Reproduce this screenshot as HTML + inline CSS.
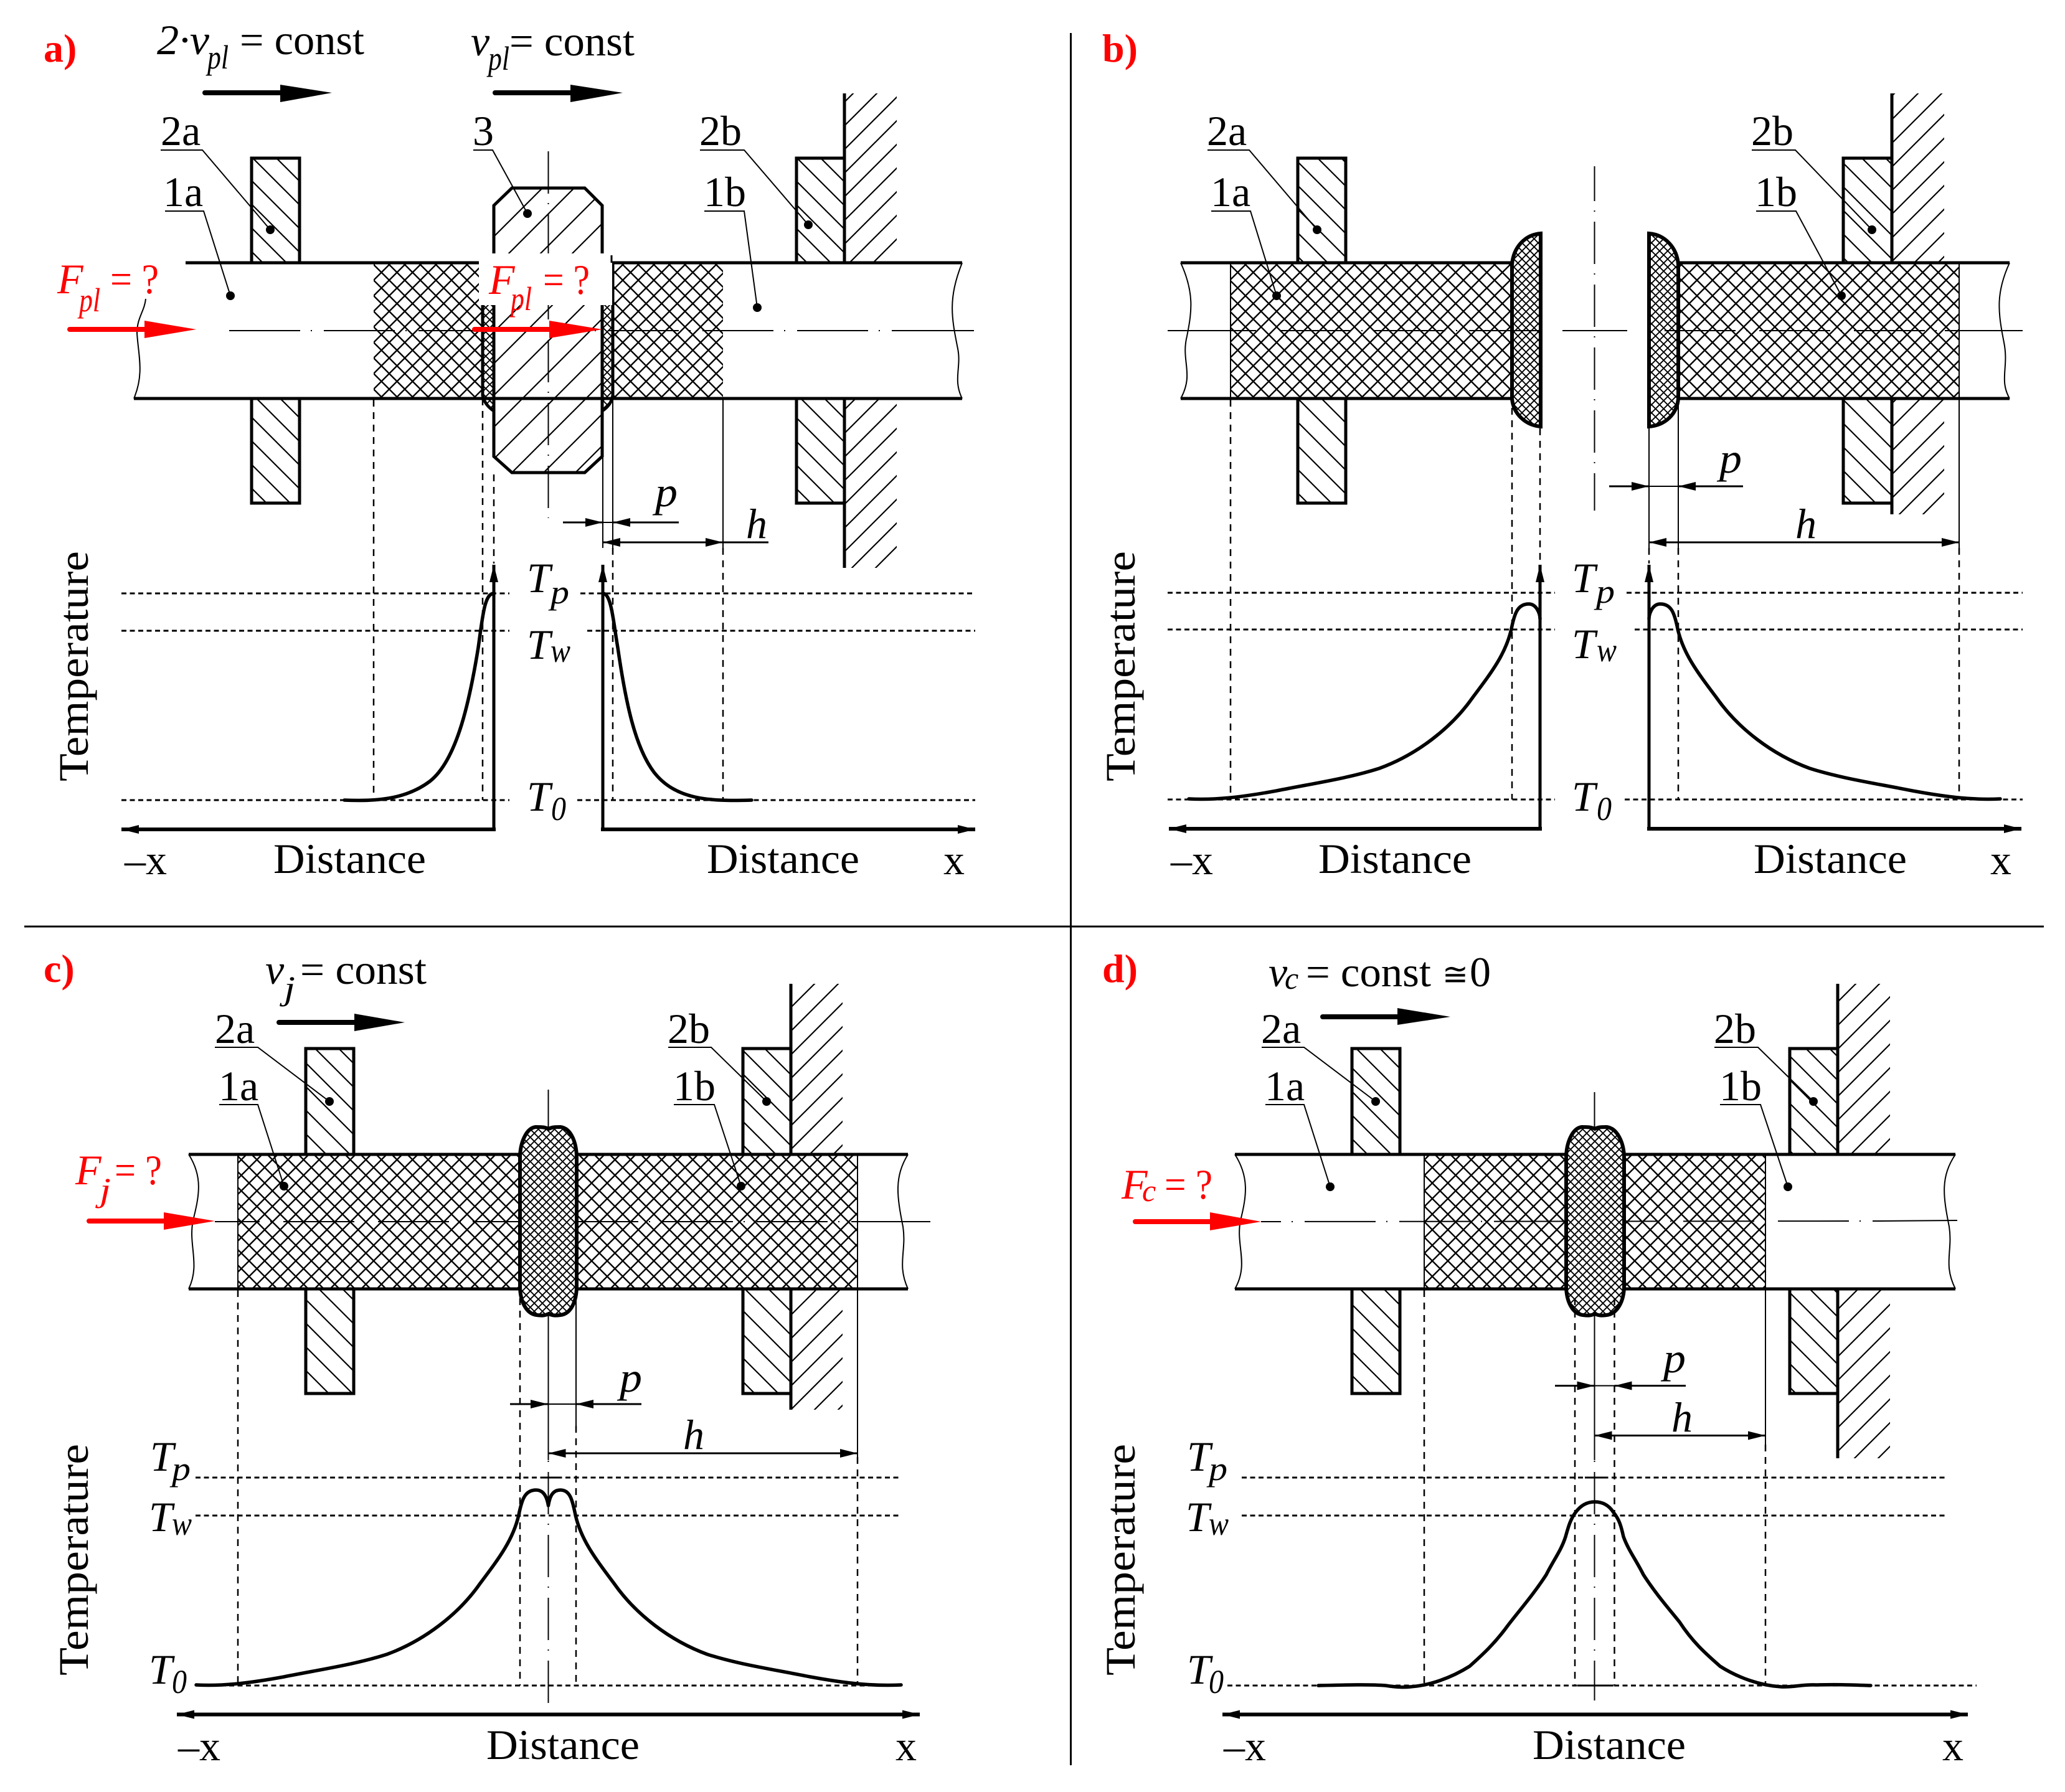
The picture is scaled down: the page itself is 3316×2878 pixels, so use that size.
<!DOCTYPE html>
<html>
<head>
<meta charset="utf-8">
<style>
html,body{margin:0;padding:0;background:#fff}
svg{display:block}
text{font-family:"Liberation Serif","DejaVu Serif",serif;font-size:68px;fill:#000}
.i{font-style:italic}
.s{font-style:italic;font-size:54px}
.r{fill:#f00}
.h{font-weight:bold;fill:#f00;font-size:64px}
.m{fill:none;stroke:#000;stroke-width:5}
.th{fill:none;stroke:#000;stroke-width:2}
.sep{stroke:#000;stroke-width:3}
.dim{stroke:#000;stroke-width:3;marker-end:url(#ah)}
.dim2{stroke:#000;stroke-width:3;marker-end:url(#ah);marker-start:url(#ah)}
.dash{stroke:#000;stroke-width:2.5;stroke-dasharray:11 9;fill:none}
.dot{stroke:#000;stroke-width:3;stroke-dasharray:8 5.5;fill:none}
.cen{stroke:#000;stroke-width:2;stroke-dasharray:114 17 2 19;fill:none}
.cv{stroke:#000;stroke-width:2;stroke-dasharray:68 15 2 16;fill:none}
.ax{stroke:#000;stroke-width:6;marker-end:url(#ah)}
.ay{stroke:#000;stroke-width:5;marker-end:url(#ah)}
.cur{fill:none;stroke:#000;stroke-width:5.5;stroke-linecap:round;stroke-linejoin:round}
.sh{stroke:#000;stroke-width:8;stroke-linecap:round}
.rs{stroke:#f00;stroke-width:8;stroke-linecap:round}
</style>
</head>
<body>
<svg xmlns="http://www.w3.org/2000/svg" width="3316" height="2878" viewBox="0 0 3316 2878">
<defs>
<pattern id="dn" patternUnits="userSpaceOnUse" width="38" height="38"><path d="M0,0L38,38M-5,33L5,43M33,-5L43,5" stroke="#000" stroke-width="2.2" fill="none"/></pattern>
<pattern id="up" patternUnits="userSpaceOnUse" width="38" height="38"><path d="M0,38L38,0M-5,5L5,-5M33,43L43,33" stroke="#000" stroke-width="2.2" fill="none"/></pattern>
<pattern id="bup" patternUnits="userSpaceOnUse" width="51" height="51"><path d="M0,51L51,0M-5,5L5,-5M46,56L56,46" stroke="#000" stroke-width="2.2" fill="none"/></pattern>
<pattern id="x" patternUnits="userSpaceOnUse" width="25" height="25"><path d="M0,25L25,0M-5,5L5,-5M20,30L30,20M0,0L25,25M-5,20L5,30M20,-5L30,5" stroke="#000" stroke-width="2.4" fill="none"/></pattern>
<pattern id="f" patternUnits="userSpaceOnUse" width="13" height="13"><path d="M0,13L13,0M-3,3L3,-3M10,16L16,10M0,0L13,13M-3,10L3,16M10,-3L16,3" stroke="#000" stroke-width="1.9" fill="none"/></pattern>
<marker id="ah" markerUnits="userSpaceOnUse" markerWidth="28" markerHeight="14" refX="28" refY="7" orient="auto-start-reverse"><path d="M0,0L28,7L0,14Z" fill="#000"/></marker>
</defs>
<rect width="3316" height="2878" fill="#fff"/>

<!-- separators -->
<line class="sep" x1="39" y1="1488" x2="3282" y2="1488"/>
<line class="sep" x1="1719.5" y1="53" x2="1719.5" y2="2835"/>

<!-- ============ PANEL A ============ -->
<text class="h" x="70" y="99">a)</text>
<text class="i" x="252" y="87" textLength="84" lengthAdjust="spacingAndGlyphs">2·v</text>
<text class="s" x="333" y="110" textLength="34" lengthAdjust="spacingAndGlyphs">pl</text>
<text x="385" y="87" textLength="200" lengthAdjust="spacingAndGlyphs">= const</text>
<line class="sh" x1="329" y1="149" x2="450" y2="149"/><polygon points="450,136 450,164 533,149"/>
<text class="i" x="756" y="89">v</text>
<text class="s" x="784" y="112" textLength="34" lengthAdjust="spacingAndGlyphs">pl</text>
<text x="818" y="89" textLength="201" lengthAdjust="spacingAndGlyphs">= const</text>
<line class="sh" x1="795" y1="149" x2="916" y2="149"/><polygon points="916,136 916,164 1000,149"/>

<!-- clamps + wall -->
<rect x="404" y="254" width="77" height="168" class="m" style="fill:url(#dn)"/>
<rect x="404" y="640" width="77" height="168" style="fill:url(#dn)" class="m"/>
<rect x="1279" y="254" width="77" height="168" style="fill:url(#dn)" class="m"/>
<rect x="1279" y="640" width="77" height="168" style="fill:url(#dn)" class="m"/>
<rect x="1356" y="150" width="84" height="272" fill="url(#up)"/>
<rect x="1356" y="640" width="84" height="272" fill="url(#up)"/>
<line class="m" x1="1356" y1="150" x2="1356" y2="422"/>
<line class="m" x1="1356" y1="640" x2="1356" y2="912"/>

<!-- heated zones -->
<rect x="600" y="422" width="175" height="217" fill="url(#x)"/>
<rect x="984" y="422" width="177" height="217" fill="url(#x)"/>
<path d="M775,422L793,422L793,660Q778,650 775,635Z" fill="url(#f)" stroke="#000" stroke-width="5"/>
<path d="M984,422L967,422L967,660Q982,650 984,635Z" fill="url(#f)" stroke="#000" stroke-width="5"/>
<!-- bolt -->
<path d="M822,302L939,302L967,330L967,733L939,759L822,759L793,733L793,330Z" fill="#fff" stroke="none"/>
<path d="M822,302L939,302L967,330L967,733L939,759L822,759L793,733L793,330Z" class="m" style="fill:url(#bup)"/>
<!-- tube -->
<line class="m" x1="298" y1="422" x2="1545" y2="422"/>
<line class="m" x1="215" y1="640" x2="1545" y2="640"/>
<path class="th" d="M1545,422C1522,480 1528,510 1538,560C1544,590 1530,610 1545,640"/>
<path class="th" d="M215,640C232,600 222,570 220,535C220,510 232,500 234,480"/>
<line class="cen" x1="368" y1="531" x2="1436" y2="531"/>
<line class="th" x1="1436" y1="531" x2="1564" y2="531"/>
<line class="cv" x1="880.5" y1="230" x2="880.5" y2="832" style="stroke-dashoffset:88"/>
<!-- white mask -->
<rect x="769" y="407" width="214" height="83" fill="#fff"/>
<line x1="982" y1="410" x2="982" y2="422" stroke="#000" stroke-width="3"/>

<!-- leaders -->
<path class="th" d="M258,241L325,241L434,369"/><path class="th" d="M265,339L327,339L370,475"/>
<path class="th" d="M760,241L791,241L847,343"/><path class="th" d="M1124,241L1195,241L1298,361"/>
<path class="th" d="M1131,339L1195,339L1216,494"/>
<circle cx="434" cy="369" r="7"/><circle cx="370" cy="475" r="7"/><circle cx="847" cy="343" r="7"/><circle cx="1298" cy="361" r="7"/><circle cx="1216" cy="494" r="7"/>
<text x="258" y="233">2a</text><text x="262" y="331">1a</text><text x="759" y="233">3</text><text x="1123" y="233">2b</text><text x="1130" y="331">1b</text>

<!-- red -->
<text class="i r" x="92" y="471">F</text><text class="s r" x="127" y="500" textLength="34" lengthAdjust="spacingAndGlyphs">pl</text><text class="r" x="177" y="471" textLength="78" lengthAdjust="spacingAndGlyphs">= ?</text>
<line class="rs" x1="112" y1="529" x2="232" y2="529"/><polygon fill="#f00" points="232,515 232,543 315,529"/>
<text class="i r" x="785" y="472">F</text><text class="s r" x="820" y="498" textLength="34" lengthAdjust="spacingAndGlyphs">pl</text><text class="r" x="872" y="472" textLength="75" lengthAdjust="spacingAndGlyphs">= ?</text>
<line class="rs" x1="762" y1="529" x2="882" y2="529"/><polygon fill="#f00" points="882,515 882,543 967,529"/>

<!-- projections -->
<line class="dash" x1="600" y1="642" x2="600" y2="1285"/>
<line class="dash" x1="775" y1="640" x2="775" y2="1285"/>
<line class="dash" x1="793" y1="762" x2="793" y2="905"/>
<line class="th" x1="968" y1="735" x2="968" y2="880"/>
<line class="th" x1="984" y1="640" x2="984" y2="880"/>
<line class="dash" x1="984" y1="880" x2="984" y2="1285"/>
<line class="th" x1="1161" y1="640" x2="1161" y2="880"/>
<line class="dash" x1="1161" y1="880" x2="1161" y2="1285"/>
<!-- dims -->
<line class="dim" x1="904" y1="839" x2="968" y2="839"/><line class="dim" x1="1090" y1="839" x2="984" y2="839"/>
<line class="th" x1="968" y1="839" x2="984" y2="839"/>
<text class="s" x="1052" y="813" style="font-size:68px" textLength="36" lengthAdjust="spacingAndGlyphs">p</text>
<line class="dim2" x1="968" y1="871" x2="1161" y2="871"/><line class="th" style="stroke-width:3" x1="1161" y1="871" x2="1234" y2="871"/>
<text class="i" x="1198" y="864">h</text>
<!-- chart -->
<line class="dot" x1="195" y1="953" x2="818" y2="953"/><line class="dot" x1="932" y1="953" x2="1566" y2="953"/>
<line class="dot" x1="195" y1="1013" x2="818" y2="1013"/><line class="dot" x1="943" y1="1013" x2="1566" y2="1013"/>
<line class="dot" x1="195" y1="1285" x2="818" y2="1285"/><line class="dot" x1="927" y1="1285" x2="1566" y2="1285"/>
<line class="ay" x1="793" y1="1332" x2="793" y2="907"/><line class="ay" x1="968" y1="1332" x2="968" y2="907"/>
<line class="ax" x1="796" y1="1332" x2="195" y2="1332"/><line class="ax" x1="965" y1="1332" x2="1566" y2="1332"/>
<path class="cur" d="M553,1285C600,1287 650,1285 690,1255C735,1220 755,1120 768,1040C775,990 778,953 793,953"/>
<path class="cur" d="M968,953C982,953 985,1000 992,1040C1005,1130 1020,1200 1050,1240C1085,1285 1140,1287 1207,1285"/>
<text class="i" x="846" y="951">T</text><text class="s" x="884" y="969" textLength="30" lengthAdjust="spacingAndGlyphs">p</text>
<text class="i" x="846" y="1058">T</text><text class="s" x="884" y="1063" textLength="32" lengthAdjust="spacingAndGlyphs">w</text>
<text class="i" x="846" y="1302">T</text><text class="s" x="885" y="1317" textLength="24" lengthAdjust="spacingAndGlyphs">0</text>
<text x="200" y="1404">–x</text><text x="439" y="1402" textLength="245" lengthAdjust="spacingAndGlyphs">Distance</text>
<text x="1135" y="1402" textLength="245" lengthAdjust="spacingAndGlyphs">Distance</text><text x="1515" y="1404">x</text>
<text transform="translate(141,1255) rotate(-90)" textLength="370" lengthAdjust="spacingAndGlyphs">Temperature</text>

<!-- ============ PANEL B ============ -->
<text class="h" x="1770" y="99">b)</text>
<rect x="2084" y="254" width="77" height="168" style="fill:url(#dn)" class="m"/>
<rect x="2084" y="640" width="77" height="168" style="fill:url(#dn)" class="m"/>
<rect x="2960" y="254" width="78" height="168" style="fill:url(#dn)" class="m"/>
<rect x="2960" y="640" width="78" height="168" style="fill:url(#dn)" class="m"/>
<rect x="3038" y="150" width="84" height="272" fill="url(#up)"/>
<rect x="3038" y="640" width="84" height="186" fill="url(#up)"/>
<line class="m" x1="3038" y1="150" x2="3038" y2="422"/>
<line class="m" x1="3038" y1="640" x2="3038" y2="826"/>
<rect x="1976" y="422" width="452" height="217" fill="url(#x)"/>
<rect x="2695" y="422" width="451" height="217" fill="url(#x)"/>
<line class="m" x1="1896" y1="422" x2="2428" y2="422"/><line class="m" x1="1896" y1="640" x2="2428" y2="640"/>
<line class="m" x1="2695" y1="422" x2="3227" y2="422"/><line class="m" x1="2695" y1="640" x2="3227" y2="640"/>
<line class="th" x1="1976" y1="422" x2="1976" y2="640"/><line class="th" x1="3146" y1="422" x2="3146" y2="640"/>
<path class="th" d="M1896,422C1918,470 1914,500 1906,540C1896,580 1918,600 1896,640"/>
<path class="th" d="M3227,422C3205,470 3208,500 3218,550C3226,590 3210,610 3227,640"/>
<line class="th" x1="1875" y1="531" x2="2017" y2="531"/>
<line class="cen" x1="2055" y1="531" x2="2483" y2="531"/>
<line class="th" x1="2509" y1="531" x2="2613" y2="531"/>
<line class="cen" x1="2673" y1="531" x2="3123" y2="531"/>
<line class="th" x1="3123" y1="531" x2="3248" y2="531"/>
<line class="cv" x1="2560.5" y1="267" x2="2560.5" y2="820" style="stroke-dashoffset:12"/>
<path d="M2474,375C2448,377 2430,398 2428,425L2428,640C2430,665 2450,683 2474,685Z" fill="url(#f)" stroke="#000" stroke-width="6"/>
<path d="M2648,375C2674,377 2693,398 2695,425L2695,640C2693,665 2674,683 2648,685Z" fill="url(#f)" stroke="#000" stroke-width="6"/>
<path class="th" d="M1939,241L2006,241L2115,369"/><path class="th" d="M1945,339L2008,339L2050,475"/>
<path class="th" d="M2813,241L2883,241L3006,369"/><path class="th" d="M2820,339L2884,339L2957,475"/>
<circle cx="2115" cy="369" r="7"/><circle cx="2050" cy="475" r="7"/><circle cx="3006" cy="369" r="7"/><circle cx="2957" cy="475" r="7"/>
<text x="1938" y="233">2a</text><text x="1944" y="331">1a</text><text x="2812" y="233">2b</text><text x="2818" y="331">1b</text>
<line class="dash" x1="1976" y1="642" x2="1976" y2="1284"/>
<line class="dash" x1="2428" y1="655" x2="2428" y2="1284"/>
<line class="dash" x1="2473" y1="688" x2="2473" y2="905"/>
<line class="th" x1="2648" y1="686" x2="2648" y2="880"/>
<line class="dash" x1="2648" y1="880" x2="2648" y2="905"/>
<line class="th" x1="2695" y1="650" x2="2695" y2="880"/><line class="dash" x1="2695" y1="880" x2="2695" y2="1284"/>
<line class="th" x1="3146" y1="640" x2="3146" y2="880"/><line class="dash" x1="3146" y1="880" x2="3146" y2="1284"/>
<line class="dim" x1="2584" y1="781" x2="2648" y2="781"/><line class="dim" x1="2799" y1="781" x2="2695" y2="781"/>
<line class="th" x1="2648" y1="781" x2="2695" y2="781"/>
<text class="s" x="2761" y="759" style="font-size:68px" textLength="36" lengthAdjust="spacingAndGlyphs">p</text>
<line class="dim2" x1="2648" y1="871" x2="3146" y2="871"/>
<text class="i" x="2883" y="864">h</text>
<line class="dot" x1="1875" y1="952" x2="2497" y2="952"/><line class="dot" x1="2612" y1="952" x2="3248" y2="952"/>
<line class="dot" x1="1875" y1="1011" x2="2497" y2="1011"/><line class="dot" x1="2625" y1="1011" x2="3248" y2="1011"/>
<line class="dot" x1="1875" y1="1284" x2="2497" y2="1284"/><line class="dot" x1="2609" y1="1284" x2="3248" y2="1284"/>
<line class="ay" x1="2473" y1="1331" x2="2473" y2="907"/><line class="ay" x1="2648" y1="1331" x2="2648" y2="907"/>
<line class="ax" x1="2476" y1="1331" x2="1877" y2="1331"/><line class="ax" x1="2645" y1="1331" x2="3246" y2="1331"/>
<path class="cur" d="M1909,1283C1950,1285 1990,1281 2050,1270C2110,1258 2165,1250 2215,1234C2275,1212 2330,1170 2365,1120C2395,1080 2418,1050 2427,1010C2432,985 2437,970 2455,970C2467,970 2473,985 2473,994"/>
<path class="cur" d="M2648,994C2648,985 2654,970 2666,970C2684,970 2689,985 2694,1010C2703,1050 2726,1080 2756,1120C2791,1170 2846,1212 2906,1234C2956,1250 3011,1258 3071,1270C3131,1281 3171,1285 3212,1283"/>
<text class="i" x="2524" y="951">T</text><text class="s" x="2563" y="968" textLength="30" lengthAdjust="spacingAndGlyphs">p</text>
<text class="i" x="2524" y="1057">T</text><text class="s" x="2564" y="1062" textLength="32" lengthAdjust="spacingAndGlyphs">w</text>
<text class="i" x="2524" y="1302">T</text><text class="s" x="2564" y="1317" textLength="24" lengthAdjust="spacingAndGlyphs">0</text>
<text x="1880" y="1404">–x</text><text x="2117" y="1402" textLength="246" lengthAdjust="spacingAndGlyphs">Distance</text>
<text x="2816" y="1402" textLength="246" lengthAdjust="spacingAndGlyphs">Distance</text><text x="3196" y="1404">x</text>
<text transform="translate(1822,1255) rotate(-90)" textLength="370" lengthAdjust="spacingAndGlyphs">Temperature</text>

<!-- ============ PANEL C ============ -->
<text class="h" x="70" y="1577">c)</text>
<text class="i" x="426" y="1580">v</text><text class="s" x="456" y="1605" textLength="18" lengthAdjust="spacingAndGlyphs">j</text>
<text x="482" y="1580" textLength="203" lengthAdjust="spacingAndGlyphs">= const</text>
<line class="sh" x1="448" y1="1642" x2="569" y2="1642"/><polygon points="569,1628 569,1656 650,1642"/>
<rect x="491" y="1684" width="77" height="170" style="fill:url(#dn)" class="m"/>
<rect x="491" y="2070" width="77" height="168" style="fill:url(#dn)" class="m"/>
<rect x="1193" y="1684" width="77" height="170" style="fill:url(#dn)" class="m"/>
<rect x="1193" y="2070" width="77" height="168" style="fill:url(#dn)" class="m"/>
<rect x="1270" y="1580" width="83" height="274" fill="url(#up)"/>
<rect x="1270" y="2070" width="83" height="194" fill="url(#up)"/>
<line class="m" x1="1270" y1="1580" x2="1270" y2="1854"/>
<line class="m" x1="1270" y1="2070" x2="1270" y2="2264"/>
<rect x="382" y="1854" width="995" height="216" fill="url(#x)"/>
<line class="th" x1="382" y1="1854" x2="382" y2="2070"/><line class="th" x1="1377" y1="1854" x2="1377" y2="2070"/>
<line class="m" x1="303" y1="1854" x2="1458" y2="1854"/><line class="m" x1="303" y1="2070" x2="1458" y2="2070"/>
<path class="th" d="M303,1854C326,1890 320,1920 310,1960C302,2000 322,2030 303,2070"/>
<path class="th" d="M1458,1854C1436,1890 1440,1920 1450,1970C1456,2010 1440,2030 1458,2070"/>
<line class="cen" x1="345" y1="1962" x2="1367" y2="1962" style="stroke-dashoffset:42"/>
<line class="th" x1="1367" y1="1962" x2="1494" y2="1962"/>
<path d="M881,1813C875,1810 868,1810 860,1810C845,1812 835,1835 835,1860L835,2065C835,2090 845,2110 862,2112C870,2113 875,2113 881,2110C887,2113 892,2113 900,2112C917,2110 926,2090 926,2065L926,1860C926,1835 917,1812 900,1810C892,1810 887,1810 881,1813Z" fill="#fff"/>
<path d="M881,1813C875,1810 868,1810 860,1810C845,1812 835,1835 835,1860L835,2065C835,2090 845,2110 862,2112C870,2113 875,2113 881,2110C887,2113 892,2113 900,2112C917,2110 926,2090 926,2065L926,1860C926,1835 917,1812 900,1810C892,1810 887,1810 881,1813Z" fill="url(#f)" stroke="#000" stroke-width="6"/>
<line class="th" x1="880.5" y1="1750" x2="880.5" y2="1812"/>
<line class="th" x1="880.5" y1="2112" x2="880.5" y2="2345"/>
<line class="cv" x1="880.5" y1="2345" x2="880.5" y2="2738" style="stroke-dashoffset:82"/>
<path class="th" d="M345,1682L414,1682L529,1769"/><path class="th" d="M352,1774L414,1774L456,1905"/>
<path class="th" d="M1073,1682L1142,1682L1231,1769"/><path class="th" d="M1082,1774L1147,1774L1190,1905"/>
<circle cx="529" cy="1769" r="7"/><circle cx="456" cy="1905" r="7"/><circle cx="1231" cy="1769" r="7"/><circle cx="1190" cy="1905" r="7"/>
<text x="345" y="1675">2a</text><text x="351" y="1767">1a</text><text x="1072" y="1675">2b</text><text x="1081" y="1767">1b</text>
<text class="i r" x="121" y="1902">F</text><text class="s r" x="160" y="1929" textLength="18" lengthAdjust="spacingAndGlyphs">j</text><text class="r" x="184" y="1902" textLength="76" lengthAdjust="spacingAndGlyphs">= ?</text>
<line class="rs" x1="143" y1="1961" x2="263" y2="1961"/><polygon fill="#f00" points="263,1947 263,1975 345,1961"/>
<line class="dash" x1="382" y1="2072" x2="382" y2="2707"/>
<line class="dash" x1="835" y1="2085" x2="835" y2="2707"/>
<line class="th" x1="925" y1="2085" x2="925" y2="2290"/><line class="dash" x1="925" y1="2290" x2="925" y2="2707"/>
<line class="th" x1="1377" y1="2070" x2="1377" y2="2340"/><line class="dash" x1="1377" y1="2340" x2="1377" y2="2707"/>
<line class="dim" x1="819" y1="2255" x2="880" y2="2255"/><line class="dim" x1="1030" y1="2255" x2="925" y2="2255"/>
<line class="th" x1="880" y1="2255" x2="925" y2="2255"/>
<text class="s" x="995" y="2235" style="font-size:68px" textLength="36" lengthAdjust="spacingAndGlyphs">p</text>
<line class="dim2" x1="880.5" y1="2334" x2="1377" y2="2334"/>
<text class="i" x="1097" y="2327">h</text>
<line class="dot" x1="314" y1="2373" x2="1447" y2="2373"/><line class="dot" x1="314" y1="2434" x2="1447" y2="2434"/><line class="dot" x1="314" y1="2707" x2="1447" y2="2707"/>
<line x1="870" y1="2373" x2="898" y2="2373" stroke="#000" stroke-width="3"/>
<line class="dim2" style="stroke-width:6" x1="284" y1="2753.5" x2="1477" y2="2753.5"/>
<path class="cur" d="M315,2706C356,2708 396,2704 456,2693C516,2681 571,2673 621,2657C681,2635 736,2593 771,2543C801,2503 824,2473 833,2433C838,2408 843,2393 861,2393C872,2393 878,2402 880.5,2418C883,2402 888,2393 900,2393C915,2393 919,2408 924,2433C933,2473 956,2503 986,2543C1021,2593 1076,2635 1136,2657C1186,2673 1241,2681 1301,2693C1361,2704 1401,2708 1447,2706"/>
<text class="i" x="241" y="2362">T</text><text class="s" x="276" y="2377" textLength="30" lengthAdjust="spacingAndGlyphs">p</text>
<text class="i" x="239" y="2459">T</text><text class="s" x="276" y="2465" textLength="32" lengthAdjust="spacingAndGlyphs">w</text>
<text class="i" x="239" y="2704">T</text><text class="s" x="276" y="2719" textLength="24" lengthAdjust="spacingAndGlyphs">0</text>
<text x="286" y="2827">–x</text><text x="781" y="2825" textLength="246" lengthAdjust="spacingAndGlyphs">Distance</text><text x="1438" y="2827">x</text>
<text transform="translate(141,2691) rotate(-90)" textLength="372" lengthAdjust="spacingAndGlyphs">Temperature</text>

<!-- ============ PANEL D ============ -->
<text class="h" x="1770" y="1577">d)</text>
<text class="i" x="2037" y="1584">v</text><text class="s" x="2063" y="1588" style="font-size:50px">c</text>
<text x="2097" y="1584" textLength="201" lengthAdjust="spacingAndGlyphs">= const</text><text x="2316" y="1582" style="font-size:50px">≅</text><text x="2360" y="1584">0</text>
<line class="sh" x1="2124" y1="1633" x2="2244" y2="1633"/><polygon points="2244,1619 2244,1646 2329,1633"/>
<rect x="2171" y="1684" width="77" height="170" style="fill:url(#dn)" class="m"/>
<rect x="2171" y="2070" width="77" height="168" style="fill:url(#dn)" class="m"/>
<rect x="2874" y="1684" width="77" height="170" style="fill:url(#dn)" class="m"/>
<rect x="2874" y="2070" width="77" height="168" style="fill:url(#dn)" class="m"/>
<rect x="2951" y="1580" width="84" height="274" fill="url(#up)"/>
<rect x="2951" y="2070" width="84" height="272" fill="url(#up)"/>
<line class="m" x1="2951" y1="1580" x2="2951" y2="1854"/>
<line class="m" x1="2951" y1="2070" x2="2951" y2="2342"/>
<rect x="2287" y="1854" width="548" height="216" fill="url(#x)"/>
<line class="th" x1="2287" y1="1854" x2="2287" y2="2070"/><line class="th" x1="2835" y1="1854" x2="2835" y2="2070"/>
<line class="m" x1="1983" y1="1854" x2="3140" y2="1854"/><line class="m" x1="1983" y1="2070" x2="3140" y2="2070"/>
<path class="th" d="M1983,1854C2006,1890 2002,1920 1992,1960C1984,2000 2006,2030 1983,2070"/>
<path class="th" d="M3140,1854C3116,1890 3120,1920 3130,1970C3136,2010 3120,2030 3140,2070"/>
<line class="cen" x1="2025" y1="1962" x2="3019" y2="1961" style="stroke-dashoffset:82"/>
<line class="th" x1="3019" y1="1961" x2="3143" y2="1960"/>
<path d="M2561,1813C2555,1810 2548,1810 2540,1810C2525,1812 2515,1835 2515,1860L2515,2065C2515,2090 2525,2110 2542,2112C2550,2113 2555,2113 2561,2110C2567,2113 2572,2113 2580,2112C2597,2110 2608,2090 2608,2065L2608,1860C2608,1835 2597,1812 2580,1810C2572,1810 2567,1810 2561,1813Z" fill="#fff"/>
<path d="M2561,1813C2555,1810 2548,1810 2540,1810C2525,1812 2515,1835 2515,1860L2515,2065C2515,2090 2525,2110 2542,2112C2550,2113 2555,2113 2561,2110C2567,2113 2572,2113 2580,2112C2597,2110 2608,2090 2608,2065L2608,1860C2608,1835 2597,1812 2580,1810C2572,1810 2567,1810 2561,1813Z" fill="url(#f)" stroke="#000" stroke-width="6"/>
<line class="th" x1="2560.5" y1="1754" x2="2560.5" y2="1812"/>
<line class="th" x1="2560.5" y1="2112" x2="2560.5" y2="2345"/>
<line class="cv" x1="2560.5" y1="2345" x2="2560.5" y2="2731" style="stroke-dashoffset:82"/>
<path class="th" d="M2026,1682L2094,1682L2209,1769"/><path class="th" d="M2032,1774L2094,1774L2136,1906"/>
<path class="th" d="M2753,1682L2823,1682L2912,1769"/><path class="th" d="M2762,1774L2827,1774L2871,1906"/>
<circle cx="2209" cy="1769" r="7"/><circle cx="2136" cy="1906" r="7"/><circle cx="2912" cy="1769" r="7"/><circle cx="2871" cy="1906" r="7"/>
<text x="2025" y="1675">2a</text><text x="2031" y="1767">1a</text><text x="2752" y="1675">2b</text><text x="2761" y="1767">1b</text>
<text class="i r" x="1801" y="1925">F</text><text class="s r" x="1834" y="1929" style="font-size:50px">c</text><text class="r" x="1870" y="1925" textLength="77" lengthAdjust="spacingAndGlyphs">= ?</text>
<line class="rs" x1="1823" y1="1962" x2="1943" y2="1962"/><polygon fill="#f00" points="1943,1947 1943,1976 2025,1962"/>
<line class="dash" x1="2287" y1="2072" x2="2287" y2="2707"/>
<line class="dash" x1="2529" y1="2085" x2="2529" y2="2707"/>
<line class="dash" x1="2592.5" y1="2085" x2="2592.5" y2="2707"/>
<line class="th" x1="2835" y1="2070" x2="2835" y2="2320"/><line class="dash" x1="2835" y1="2320" x2="2835" y2="2707"/>
<line class="dim" x1="2497" y1="2225.5" x2="2560.5" y2="2225.5"/><line class="dim" x1="2707" y1="2225.5" x2="2592.5" y2="2225.5"/>
<line class="th" x1="2560" y1="2225.5" x2="2593" y2="2225.5"/>
<text class="s" x="2671" y="2204" style="font-size:68px" textLength="36" lengthAdjust="spacingAndGlyphs">p</text>
<line class="dim2" x1="2560.5" y1="2305.5" x2="2835" y2="2305.5"/>
<text class="i" x="2684" y="2299">h</text>
<line class="dot" x1="1994" y1="2373" x2="3127" y2="2373"/><line class="dot" x1="1994" y1="2434" x2="3127" y2="2434"/><line class="dot" x1="1971" y1="2707" x2="3174" y2="2707"/>
<line x1="2545" y1="2373" x2="2576" y2="2373" stroke="#000" stroke-width="3"/>
<line x1="2533" y1="2707" x2="2591" y2="2707" stroke="#000" stroke-width="3"/>
<line class="dim2" style="stroke-width:6" x1="1963" y1="2753.5" x2="3160" y2="2753.5"/>
<path class="cur" d="M2117,2707C2160,2706 2200,2705 2225,2707C2245,2710 2255,2710 2265,2709C2295,2707 2330,2695 2360,2676C2380,2658 2400,2640 2421,2611C2441,2585 2463,2560 2483,2529C2495,2505 2507,2490 2514,2468C2519,2450 2522,2440 2530,2429C2538,2418 2548,2412 2561,2412C2574,2412 2584,2418 2591,2429C2600,2440 2603,2450 2607,2468C2615,2490 2627,2505 2639,2529C2659,2560 2681,2585 2697,2605C2720,2640 2742,2658 2762,2676C2792,2695 2827,2707 2860,2709C2880,2710 2895,2705 2916,2706C2950,2705 2975,2706 3004,2707"/>
<text class="i" x="1906" y="2362">T</text><text class="s" x="1941" y="2377" textLength="30" lengthAdjust="spacingAndGlyphs">p</text>
<text class="i" x="1904" y="2459">T</text><text class="s" x="1941" y="2465" textLength="32" lengthAdjust="spacingAndGlyphs">w</text>
<text class="i" x="1906" y="2704">T</text><text class="s" x="1941" y="2719" textLength="24" lengthAdjust="spacingAndGlyphs">0</text>
<text x="1965" y="2827">–x</text><text x="2461" y="2825" textLength="246" lengthAdjust="spacingAndGlyphs">Distance</text><text x="3119" y="2827">x</text>
<text transform="translate(1822,2691) rotate(-90)" textLength="372" lengthAdjust="spacingAndGlyphs">Temperature</text>
</svg>
</body>
</html>
